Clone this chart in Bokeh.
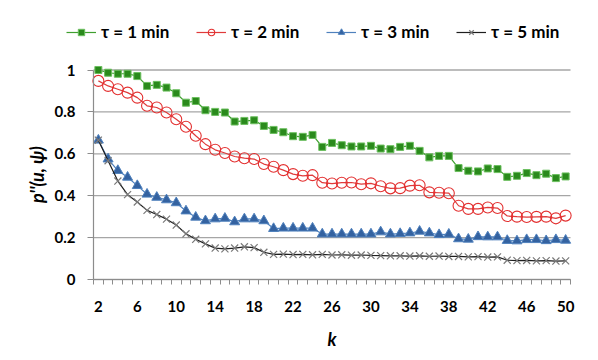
import math
from bokeh.plotting import figure
from bokeh.models import Range1d, FixedTicker, Legend, LegendItem, CustomJSTickFormatter
from bokeh.core.properties import value
from bokeh.embed import file_html
from bokeh.resources import INLINE

# ---- data ----
k = list(range(2, 51))
x_tick_labels = [2, 6, 10, 14, 18, 22, 26, 30, 34, 38, 42, 46, 50]
y_ticks = [0, 0.2, 0.4, 0.6, 0.8, 1.0]
y_tick_text = ["0", "0.2", "0.4", "0.6", "0.8", "1"]

tau1 = [1.0, 0.987, 0.982, 0.982, 0.971, 0.924, 0.929, 0.916, 0.889, 0.844,
        0.852, 0.808, 0.8, 0.797, 0.754, 0.757, 0.76, 0.733, 0.714, 0.703,
        0.684, 0.681, 0.69, 0.633, 0.652, 0.641, 0.635, 0.635, 0.638, 0.625,
        0.622, 0.633, 0.638, 0.614, 0.583, 0.59, 0.59, 0.532, 0.519, 0.516,
        0.53, 0.527, 0.49, 0.495, 0.508, 0.498, 0.505, 0.484, 0.492]
tau2 = [0.948, 0.924, 0.908, 0.892, 0.868, 0.829, 0.821, 0.797, 0.765, 0.729,
        0.686, 0.646, 0.619, 0.604, 0.587, 0.579, 0.575, 0.551, 0.538, 0.522,
        0.503, 0.495, 0.498, 0.462, 0.458, 0.462, 0.463, 0.455, 0.459, 0.445,
        0.435, 0.436, 0.448, 0.45, 0.416, 0.414, 0.412, 0.352, 0.337, 0.337,
        0.344, 0.341, 0.303, 0.3, 0.298, 0.299, 0.3, 0.292, 0.305]
tau3 = [0.665, 0.575, 0.52, 0.488, 0.448, 0.407, 0.392, 0.38, 0.366, 0.327,
        0.297, 0.28, 0.289, 0.292, 0.275, 0.289, 0.289, 0.28, 0.243, 0.245,
        0.245, 0.245, 0.245, 0.217, 0.217, 0.217, 0.217, 0.217, 0.217, 0.227,
        0.217, 0.219, 0.222, 0.23, 0.222, 0.214, 0.216, 0.194, 0.192, 0.204,
        0.203, 0.203, 0.186, 0.184, 0.19, 0.19, 0.185, 0.19, 0.187]
tau5 = [0.665, 0.567, 0.47, 0.405, 0.37, 0.33, 0.31, 0.288, 0.26, 0.218,
        0.192, 0.17, 0.15, 0.146, 0.15, 0.156, 0.152, 0.13, 0.12, 0.121,
        0.119, 0.12, 0.118, 0.12, 0.117, 0.118, 0.116, 0.117, 0.115, 0.114,
        0.113, 0.113, 0.112, 0.113, 0.111, 0.112, 0.11, 0.11, 0.108, 0.109,
        0.107, 0.108, 0.092, 0.09, 0.091, 0.089, 0.09, 0.088, 0.089]

labels = ["τ = 1 min", "τ = 2 min", "τ = 3 min", "τ = 5 min"]
y_title = "p''(u, ψ)"
x_title = "k"

FONT = "Lato"

# ---- layout (pixels) ----
W, H = 598, 360
F_LEFT, F_RIGHT, F_TOP, F_BOTTOM = 12, 590, 15, 350   # frame covers legend, titles, labels
AX_LEFT, AX_RIGHT = 93, 570             # plot-area in px
AX_BOTTOM = 279                         # y = 0
PX_PER_Y = 209.5                        # pixels per unit of y
x_lo, x_hi = k[0] - 0.5, k[-1] + 0.5
px_per_x = (AX_RIGHT - AX_LEFT) / (x_hi - x_lo)
x_start = x_lo - (AX_LEFT - F_LEFT) / px_per_x
x_end = x_hi + (F_RIGHT - AX_RIGHT) / px_per_x
y_end = (AX_BOTTOM - F_TOP) / PX_PER_Y
y_start = -(F_BOTTOM - AX_BOTTOM) / PX_PER_Y

p = figure(width=W, height=H,
           x_range=Range1d(x_start, x_end), y_range=Range1d(y_start, y_end),
           output_backend="svg", toolbar_location=None,
           min_border_left=F_LEFT, min_border_right=W - F_RIGHT,
           min_border_top=F_TOP, min_border_bottom=H - F_BOTTOM)
p.outline_line_color = None
p.background_fill_color = "white"
p.border_fill_color = "white"

# grid (only across the plot area)
p.xgrid.visible = False
p.ygrid.visible = False
p.segment(x0=[x_lo] * len(y_ticks), y0=y_ticks,
          x1=[x_hi] * len(y_ticks), y1=y_ticks,
          line_color="#a6a6a6", line_width=1.3)

blank = CustomJSTickFormatter(code="return ''")

# x axis: line + category tick marks, placed at y = 0
minor = [v - 0.5 for v in k] + [k[-1] + 0.5]
p.xaxis.fixed_location = 0
p.xaxis.ticker = FixedTicker(ticks=x_tick_labels, minor_ticks=minor)
p.xaxis.bounds = (x_lo, x_hi)
p.xaxis.formatter = blank
p.xaxis.major_label_text_font_size = "0px"
p.xaxis.major_label_standoff = 0
p.xaxis.major_tick_out = 0
p.xaxis.major_tick_in = 0
p.xaxis.minor_tick_out = 5
p.xaxis.minor_tick_in = 0
p.xaxis.minor_tick_line_color = "#8c8c8c"
p.xaxis.axis_line_color = "#8c8c8c"
p.xaxis.axis_line_width = 1.2

# y axis: line + ticks, placed at the plot-area edge
p.yaxis.fixed_location = x_lo
p.yaxis.ticker = FixedTicker(ticks=y_ticks)
p.yaxis.bounds = (0, 1)
p.yaxis.formatter = blank
p.yaxis.major_label_text_font_size = "0px"
p.yaxis.major_label_standoff = 0
p.yaxis.major_tick_out = 6
p.yaxis.major_tick_in = 0
p.yaxis.minor_tick_out = 0
p.yaxis.minor_tick_in = 0
p.yaxis.major_tick_line_color = "#8c8c8c"
p.yaxis.axis_line_color = "#8c8c8c"
p.yaxis.axis_line_width = 1.2

# tick labels and titles (as text, inside the extended frame)
p.text(x=[x_lo - 18 / px_per_x] * len(y_ticks), y=y_ticks, text=y_tick_text,
       text_font=value(FONT), text_font_style="bold", text_font_size="15px",
       text_color="black", text_align="right", text_baseline="middle")
p.text(x=x_tick_labels, y=[-27 / PX_PER_Y] * len(x_tick_labels),
       text=[str(v) for v in x_tick_labels],
       text_font=value(FONT), text_font_style="bold", text_font_size="15px",
       text_color="black", text_align="center", text_baseline="middle")
p.text(x=[x_lo - 57 / px_per_x], y=[0.5], text=[y_title], angle=math.pi / 2,
       text_font=value(FONT), text_font_style="bold italic", text_font_size="18px",
       text_color="black", text_align="center", text_baseline="middle")
p.text(x=[(x_lo + x_hi) / 2], y=[-59 / PX_PER_Y], text=[x_title],
       text_font=value(FONT), text_font_style="bold italic", text_font_size="18px",
       text_color="black", text_align="center", text_baseline="middle")

# series
l1 = p.line(k, tau1, line_color="#3f9f2f", line_width=1.2)
s1 = p.scatter(k, tau1, marker="square", size=7, fill_color="#2a8a1c",
               line_color="#6cbf5f", line_width=1)
l2 = p.line(k, tau2, line_color="#e03a3a", line_width=1.2)
s2 = p.scatter(k, tau2, marker="circle", size=11, fill_color=None,
               line_color="#e33030", line_width=1.1)
l3 = p.line(k, tau3, line_color="#4f81bd", line_width=1.2)
s3 = p.scatter(k, tau3, marker="triangle", size=10, fill_color="#3462a0",
               line_color="#4f81bd", line_width=1)
l4 = p.line(k, tau5, line_color="#1e1e1e", line_width=1.2)
s4 = p.scatter(k, tau5, marker="x", size=10, line_color="#7a7a7a", line_width=1.2)

items = [LegendItem(label=lab, renderers=[ln, sc])
         for (ln, sc), lab in zip([(l1, s1), (l2, s2), (l3, s3), (l4, s4)], labels)]
legend = Legend(items=items, location=(66 - F_LEFT, F_BOTTOM - 42),
                orientation="horizontal",
                padding=0, margin=0, spacing=23,
                border_line_color=None, background_fill_alpha=0,
                glyph_width=30, glyph_height=16, label_standoff=5,
                label_width=72,
                label_text_font=FONT, label_text_font_style="bold",
                label_text_font_size="17px", label_text_color="black")
p.add_layout(legend)

open("out.html", "w").write(file_html(p, INLINE))
